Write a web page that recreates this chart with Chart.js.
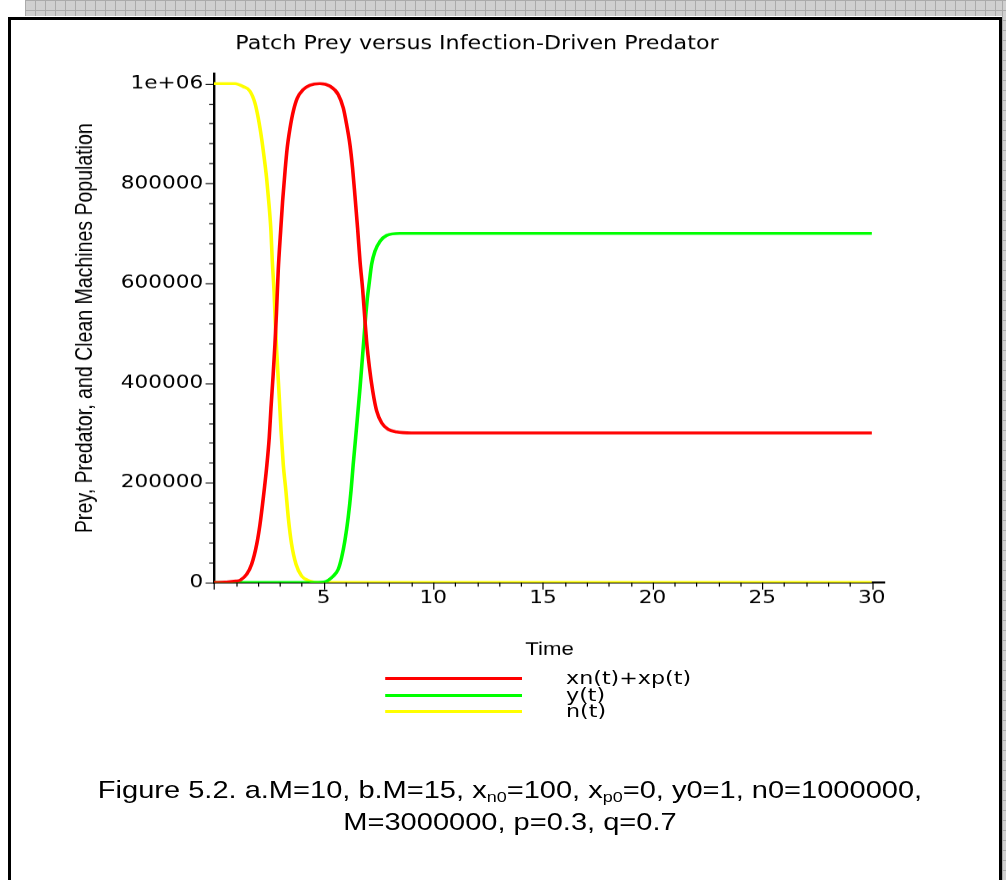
<!DOCTYPE html>
<html>
<head>
<meta charset="utf-8">
<script src="https://cdn.jsdelivr.net/npm/chart.js@4.4.1/dist/chart.umd.min.js"></script>
<style>
  html, body { margin: 0; padding: 0; background: #fff; }
  body { width: 1006px; height: 880px; position: relative; overflow: hidden; }
  .hatch {
    position: absolute;
    background-color: #d0d0d0;
    background-image: linear-gradient(#ababab 1px, transparent 1px),
                      linear-gradient(90deg, #ababab 1px, transparent 1px);
    background-size: 10px 10px;
  }
  #hatchTop { left: 25px; top: 0; width: 981px; height: 16px; }
  #hatchSide { left: 1002px; top: 0; width: 4px; height: 880px; }
  #frame {
    position: absolute; left: 8px; top: 17px; width: 994px; height: 900px;
    border: 3px solid #000; box-sizing: border-box; background: #fff;
  }
  /* the original picture is stretched sideways, so is this one */
  #stretch {
    position: absolute; left: 0; top: 0; width: 838px; height: 880px;
    transform: scaleX(1.2); transform-origin: 0 0;
  }
  #chart { position: absolute; left: 25px; top: 20px; }
  #legend { position: absolute; left: 320.8px; top: 670px; }
  #legend .row { display: flex; align-items: center; height: 16.7px; }
  #legend .swatch { width: 114.2px; height: 3px; margin-right: 36.7px; }
  #legend .txt { font: 18.5px "DejaVu Sans", sans-serif; line-height: 16.7px; color: #000; }
  #caption {
    position: absolute; left: 0; top: 774px; width: 850px; text-align: center;
    font: 24.2px "Liberation Sans", Arial, sans-serif; line-height: 32px; color: #000;
  }
  #caption sub { font-size: 0.62em; vertical-align: -0.28em; line-height: 0; }
</style>
</head>
<body>
<div class="hatch" id="hatchTop"></div>
<div class="hatch" id="hatchSide"></div>
<div id="frame"></div>
<div id="stretch">
  <canvas id="chart" width="745" height="644"></canvas>
  <div id="legend"></div>
  <div id="caption">Figure 5.2. a.M=10, b.M=15, x<sub>n0</sub>=100, x<sub>p0</sub>=0, y0=1, n0=1000000,<br>M=3000000, p=0.3, q=0.7</div>
</div>
<script>
// valores
const seriesLabels = ['xn(t)+xp(t)', 'y(t)', 'n(t)'];

const redT = [0, 0.5, 1.0, 1.2, 1.5, 1.72, 1.95, 2.1, 2.25, 2.4, 2.52, 2.6, 2.7, 2.78, 2.85,
  2.93, 3.04, 3.13, 3.24, 3.34, 3.47, 3.62, 3.8, 4.07, 4.38, 4.83, 5.29, 5.67, 5.9, 6.05,
  6.2, 6.32, 6.43, 6.55, 6.66, 6.78, 6.87, 6.96, 7.09, 7.24, 7.42, 7.65, 7.95, 8.33, 9, 30];
const redV = [100, 1000, 3000, 5000, 17000, 37000, 77000, 117000, 170000, 230000, 290000, 350000, 417000, 477000, 540000,
  625000, 704000, 764000, 824000, 871000, 911000, 945000, 971000, 988000, 997000, 1000000, 995000, 978000, 951000, 918000,
  878000, 831000, 775000, 710000, 644000, 588000, 535000, 484000, 431000, 384000, 344000, 320000, 307000, 302000, 300000, 300000];

const greenT = [0, 4.4, 5.0, 5.44, 5.67, 5.82, 5.97, 6.12, 6.25, 6.35, 6.46, 6.55, 6.66, 6.76, 6.84,
  6.92, 6.99, 7.09, 7.19, 7.34, 7.57, 7.88, 8.48, 30];
const greenV = [0, 0, 1000, 13000, 27000, 50000, 84000, 130000, 184000, 237000, 290000, 335000, 390000, 445000, 490000,
  535000, 568000, 604000, 638000, 664000, 684000, 696000, 700000, 700000];

const yellowT = [0, 0.96, 1.34, 1.64, 1.87, 2.02, 2.17, 2.28, 2.4, 2.51, 2.6, 2.66, 2.74, 2.8, 2.86,
  2.98, 3.06, 3.16, 3.28, 3.39, 3.54, 3.74, 4.0, 4.38, 4.8, 30];
const yellowV = [1000000, 1000000, 994000, 985000, 961000, 931000, 891000, 855000, 811000, 758000, 704000, 644000, 584000, 518000, 464000,
  370000, 304000, 237000, 184000, 130000, 77000, 37000, 13000, 3000, 0, 0];

const xTicks = [5, 10, 15, 20, 25, 30];
const yTicks = [0, 200000, 400000, 600000, 800000, 1000000];
const yTickLabels = ['0', '200000', '400000', '600000', '800000', '1e+06'];

const pts = (t, v) => t.map((x, i) => ({ x: x, y: v[i] }));

// marcas menores de los ejes (cada 1 en x, cada 40000 en y)
const axisTicks = {
  id: 'axisTicks',
  afterDraw(chart) {
    const { ctx, scales: { x, y } } = chart;
    ctx.save();
    ctx.strokeStyle = '#000';
    ctx.lineWidth = 1;
    ctx.beginPath();
    for (let v = 0; v <= xTicks[xTicks.length - 1]; v++) {
      const px = Math.round(x.getPixelForValue(v)) + 0.5;
      const len = v % 5 === 0 ? 7 : 4;
      ctx.moveTo(px, y.bottom);
      ctx.lineTo(px, y.bottom + len);
    }
    for (let v = 0; v <= yTicks[yTicks.length - 1]; v += 40000) {
      const py = Math.round(y.getPixelForValue(v)) + 0.5;
      const len = v % 200000 === 0 ? 7 : 4;
      ctx.moveTo(x.left, py);
      ctx.lineTo(x.left - len, py);
    }
    ctx.stroke();
    ctx.restore();
  }
};

const tickFont = { family: 'DejaVu Sans', size: 18 };

const chart = new Chart(document.getElementById('chart'), {
  type: 'line',
  data: {
    datasets: [
      { label: seriesLabels[0], data: pts(redT, redV), borderColor: '#ff0000' },
      { label: seriesLabels[1], data: pts(greenT, greenV), borderColor: '#00ff00' },
      { label: seriesLabels[2], data: pts(yellowT, yellowV), borderColor: '#ffff00' }
    ]
  },
  options: {
    responsive: false,
    devicePixelRatio: 1.2,
    animation: false,
    layout: { padding: { left: 32.5, right: 32.5, top: 0, bottom: 0 } },
    elements: {
      line: { borderWidth: 3, cubicInterpolationMode: 'monotone' },
      point: { radius: 0 }
    },
    plugins: {
      legend: { display: false },
      tooltip: { enabled: false },
      title: {
        display: true,
        text: 'Patch Prey versus Infection-Driven Predator',
        color: '#000',
        font: { family: 'DejaVu Sans', size: 18.5, weight: 'normal' },
        padding: { top: 13.2, bottom: 18.2 }
      }
    },
    scales: {
      x: {
        type: 'linear',
        min: 0,
        max: 30.6,
        afterBuildTicks: s => { s.ticks = xTicks.map(v => ({ value: v })); },
        ticks: { color: '#000', font: tickFont, padding: 5, maxRotation: 0, autoSkip: false,
                 callback: v => String(v) },
        grid: { display: false, drawTicks: false },
        border: { display: true, color: '#000', width: 2 },
        title: { display: true, text: 'Time', color: '#000',
                 font: { family: 'Liberation Sans', size: 18.5 },
                 padding: { top: 24, bottom: 4.2 } }
      },
      y: {
        min: 0,
        max: 1020000,
        afterBuildTicks: s => { s.ticks = yTicks.map(v => ({ value: v })); },
        afterFit: s => { s.width = 120.8; },
        ticks: { color: '#000', font: tickFont, padding: 9, autoSkip: false,
                 callback: (v, i) => yTickLabels[i] },
        grid: { display: false, drawTicks: false },
        border: { display: true, color: '#000', width: 2 },
        title: { display: true, text: 'Prey, Predator, and Clean Machines Population', color: '#000',
                 font: { family: 'Liberation Sans', size: 19.5 },
                 padding: { top: 1.9, bottom: 0 } }
      }
    }
  },
  plugins: [axisTicks]
});

// leyenda en HTML, una fila por serie
const legendEl = document.getElementById('legend');
chart.data.datasets.forEach(ds => {
  const row = document.createElement('div');
  row.className = 'row';
  const sw = document.createElement('span');
  sw.className = 'swatch';
  sw.style.background = ds.borderColor;
  const tx = document.createElement('span');
  tx.className = 'txt';
  tx.textContent = ds.label;
  row.append(sw, tx);
  legendEl.append(row);
});
</script>
</body>
</html>
